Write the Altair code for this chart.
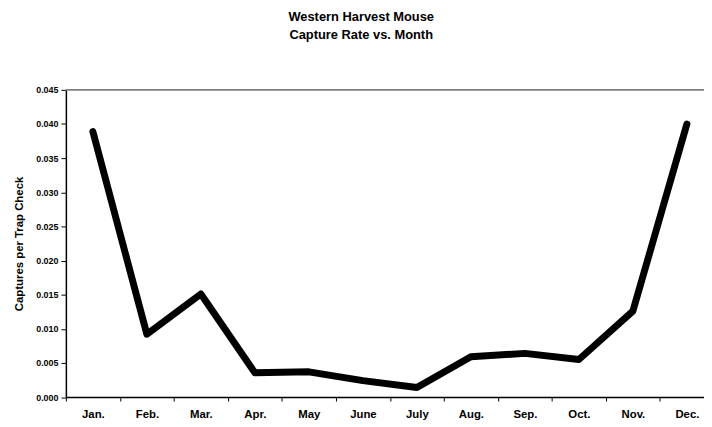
import altair as alt
import pandas as pd

months = ["Jan.", "Feb.", "Mar.", "Apr.", "May", "June", "July",
          "Aug.", "Sep.", "Oct.", "Nov.", "Dec."]
rates = [0.0389, 0.0092, 0.0151, 0.00355, 0.0037, 0.0024, 0.0014,
         0.0059, 0.0064, 0.0055, 0.0126, 0.0400]
y_ticks = [0.000, 0.005, 0.010, 0.015, 0.020, 0.025, 0.030, 0.035, 0.040, 0.045]

df = pd.DataFrame({"Month": months, "Rate": rates})

FONT = "Liberation Sans"

x_enc = alt.X(
    "Month:N", sort=months, title=None,
    scale=alt.Scale(type="band", paddingInner=0, paddingOuter=0, range=[0, 655]),
    axis=alt.Axis(labelAngle=0, tickBand="extent", tickSize=4, labelPadding=8,
                  labelFontSize=11.5, labelFontWeight="bold", labelFont=FONT,
                  labelColor="#000", domainColor="#000", domainWidth=1.5,
                  tickColor="#000", grid=False),
)
y_enc = alt.Y(
    "Rate:Q", title="Captures per Trap Check",
    scale=alt.Scale(domain=[0, 0.045], nice=False, zero=True),
    axis=alt.Axis(values=y_ticks, format=".3f", tickSize=5, labelPadding=3,
                  labelFontSize=9, labelFontWeight="bold", labelFont=FONT,
                  labelColor="#000", domainColor="#000", domainWidth=1.5,
                  tickColor="#000", grid=False,
                  titleFont=FONT, titleFontSize=11.5, titleFontWeight="bold",
                  titleColor="#000", titlePadding=11),
)

line = alt.Chart(df).mark_line(
    color="#000", strokeWidth=7, strokeCap="round", strokeJoin="round"
).encode(x=x_enc, y=y_enc)

top_border = alt.Chart(pd.DataFrame({"a": [0]})).mark_rule(
    color="#808080", strokeWidth=2
).encode(y=alt.value(0), x=alt.value(0), x2=alt.value(660))

chart = alt.layer(top_border, line).properties(
    width=645,
    height=310.5,
    title=alt.TitleParams(
        text=["Western Harvest Mouse", "Capture Rate vs. Month"],
        font=FONT, fontSize=13, fontWeight="bold", color="#000",
        anchor="middle", frame="group", dx=-24, offset=44, lineHeight=18.3,
    ),
    autosize=alt.AutoSizeParams(type="none"),
    padding={"left": 58.5, "top": 80.5, "right": 0, "bottom": 28},
).configure_view(stroke=None)

chart.save("out.html", embed_options={"renderer": "svg", "actions": False})
